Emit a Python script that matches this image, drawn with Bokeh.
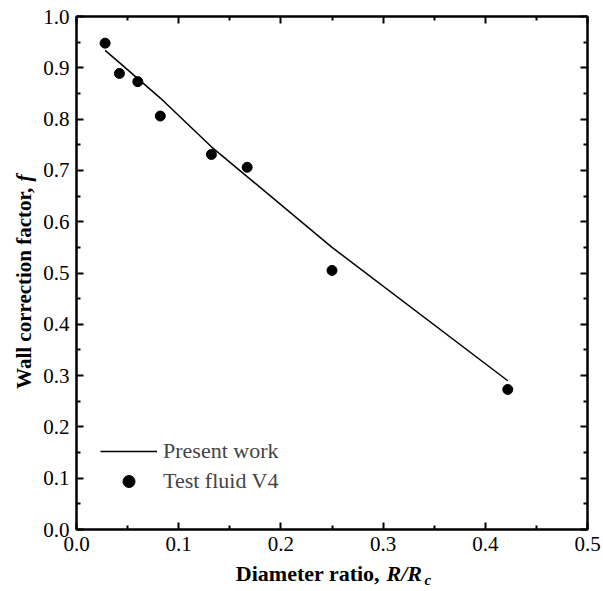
from bokeh.plotting import figure
from bokeh.layouts import column, row
from bokeh.models import (FixedTicker, LinearAxis, Legend, LegendItem, Range1d,
                          Label, PrintfTickFormatter, CustomJSTickFormatter)
from bokeh.embed import file_html
from bokeh.resources import INLINE
import math

# Data
ratio_exp = [0.028, 0.042, 0.060, 0.082, 0.132, 0.167, 0.250, 0.422]
f_exp = [0.948, 0.889, 0.873, 0.806, 0.731, 0.706, 0.505, 0.273]
ratio_model = [0.028, 0.042, 0.060, 0.082, 0.132, 0.167, 0.250, 0.422]
f_model = [0.934, 0.910, 0.879, 0.841, 0.746, 0.688, 0.550, 0.290]

x_ticks = [0.0, 0.1, 0.2, 0.3, 0.4, 0.5]
x_minor = [0.05, 0.15, 0.25, 0.35, 0.45]
y_ticks = [0.0, 0.1, 0.2, 0.3, 0.4, 0.5, 0.6, 0.7, 0.8, 0.9, 1.0]
y_minor = [0.05 + 0.1 * i for i in range(10)]

FONT = "Liberation Serif"

p = figure(width=563, height=560, output_backend="svg", toolbar_location=None,
           x_range=Range1d(0, 0.5), y_range=Range1d(0, 1.0),
           min_border_left=36, min_border_right=16, min_border_top=16, min_border_bottom=31)
p.grid.visible = False
p.outline_line_color = "black"
p.outline_line_width = 2
p.background_fill_color = "white"
p.border_fill_color = "white"


def style_axis(ax, show_labels):
    ax.major_tick_in = 7
    ax.major_tick_out = 0
    ax.minor_tick_in = 4
    ax.minor_tick_out = 0
    ax.major_tick_line_width = 2
    ax.minor_tick_line_width = 2
    ax.axis_line_width = 2
    ax.major_label_text_font = FONT
    ax.major_label_text_font_size = "21px"
    ax.major_label_text_color = "black"
    if show_labels:
        ax.formatter = PrintfTickFormatter(format="%.1f")
    else:
        ax.formatter = CustomJSTickFormatter(code="return ''")
        ax.major_label_standoff = 0


p.xaxis.ticker = FixedTicker(ticks=x_ticks, minor_ticks=x_minor)
p.yaxis.ticker = FixedTicker(ticks=y_ticks, minor_ticks=y_minor)
style_axis(p.xaxis[0], True)
style_axis(p.yaxis[0], True)
p.xaxis.major_label_standoff = 7
p.yaxis.major_label_standoff = 7

top = LinearAxis(ticker=FixedTicker(ticks=x_ticks, minor_ticks=x_minor))
right = LinearAxis(ticker=FixedTicker(ticks=y_ticks, minor_ticks=y_minor))
style_axis(top, False)
style_axis(right, False)
p.add_layout(top, "above")
p.add_layout(right, "right")

r_line = p.line(ratio_model, f_model, line_color="black", line_width=1.5)
r_pts = p.scatter(ratio_exp, f_exp, size=10, fill_color="black", line_color="black")

legend = Legend(items=[LegendItem(label="Present work", renderers=[r_line]),
                       LegendItem(label="Test fluid V4", renderers=[r_pts])],
                location=(24, 33), padding=0, margin=0, spacing=0,
                glyph_width=57, glyph_height=30, label_height=30, label_standoff=6,
                border_line_color=None, background_fill_alpha=0,
                label_text_font=FONT, label_text_font_size="22px")
p.add_layout(legend)


def label_panel(w, h):
    f = figure(width=w, height=h, output_backend="svg", toolbar_location=None,
               x_axis_type=None, y_axis_type=None, min_border=0,
               x_range=Range1d(0, w), y_range=Range1d(0, h))
    f.grid.visible = False
    f.outline_line_color = None
    f.background_fill_color = "white"
    f.border_fill_color = "white"
    return f


common = dict(text_font=FONT, text_color="black", text_baseline="middle",
              x_units="screen", y_units="screen")

# y axis title panel (bold text with bold-italic f)
left = label_panel(40, 560)
YB, YS = 23, 347
left.add_layout(Label(x=YB, y=YS, text="Wall correction factor, ", text_align="right",
                      angle=math.pi / 2, text_font_size="21px", text_font_style="bold", **common))
left.add_layout(Label(x=YB, y=YS + 1, text="f", text_align="left",
                      angle=math.pi / 2, text_font_size="21px", text_font_style="bold italic", **common))

# x axis title panel (bold text with bold-italic R/R_c)
bottom = label_panel(603, 31)
XS, XB = 385, 18
bottom.add_layout(Label(x=XS, y=XB, text="Diameter ratio, ", text_align="right",
                        text_font_size="22px", text_font_style="bold", **common))
bottom.add_layout(Label(x=XS + 1, y=XB, text="R/R", text_align="left",
                        text_font_size="22px", text_font_style="bold italic", **common))
bottom.add_layout(Label(x=XS + 39, y=XB - 6, text="c", text_align="left",
                        text_font_size="15px", text_font_style="bold italic", **common))

layout = column(row(left, p, spacing=0), bottom, spacing=0)

open("out.html", "w").write(file_html(layout, INLINE))
